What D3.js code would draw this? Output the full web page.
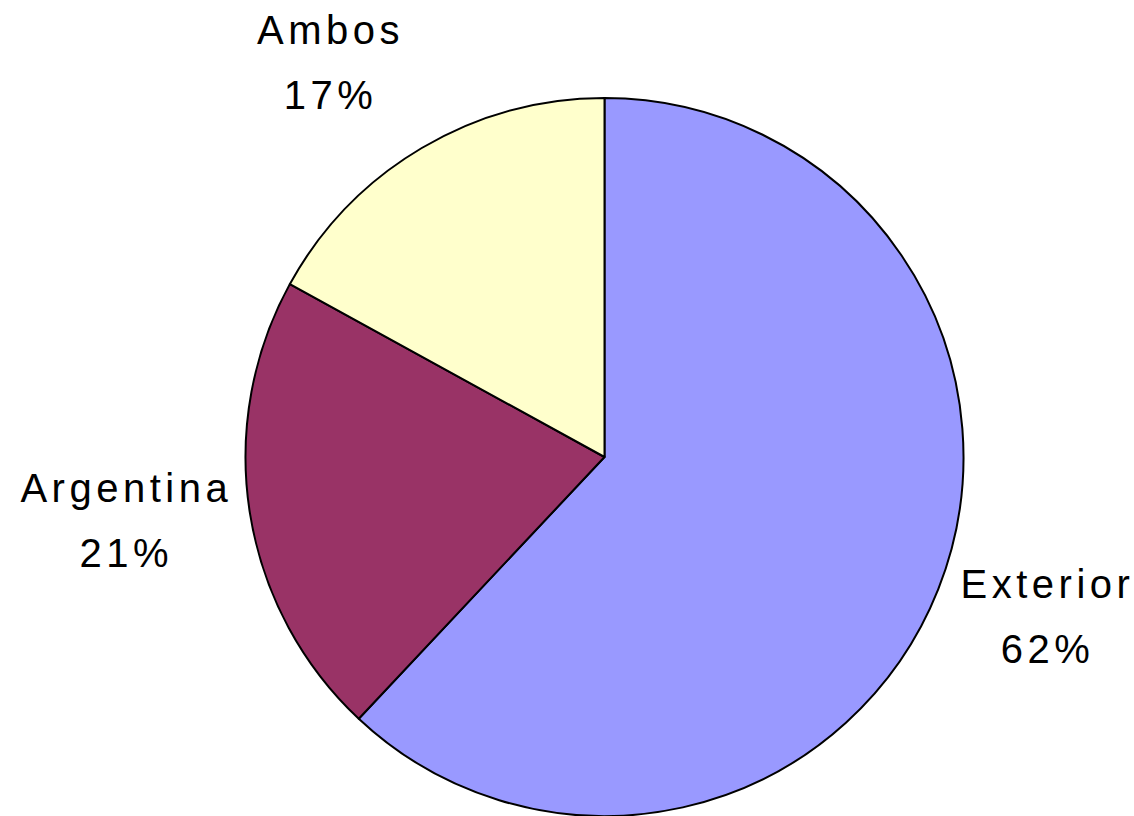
<!DOCTYPE html>
<html>
<head>
<meta charset="utf-8">
<script src="https://cdn.jsdelivr.net/npm/d3@7"></script>
<style>
  body { margin: 0; background: #fff; }
  text { font-family: Arial, "Liberation Sans", sans-serif; font-size: 40px; letter-spacing: 4.5px; fill: #000; }
</style>
</head>
<body>
<div id="chart"></div>
<script>
// data
var categories = ["Exterior", "Argentina", "Ambos"];
var values = [62, 21, 17];
var pctLabels = ["62%", "21%", "17%"];
var colors = ["#9999FF", "#993366", "#FFFFCC"];

//svg size
var svgWidth = 1134;
var svgHeight = 816;

//pie geometry
var cx = 604.5;
var cy = 457;
var radius = 359;

var svg = d3.select("#chart").append("svg")
    .attr("width", svgWidth)
    .attr("height", svgHeight);

var pieGroup = svg.append("g")
    .attr("transform", `translate(${cx}, ${cy})`);

var pie = d3.pie()
    .sort(null)
    .value(d => d.value);

var arc = d3.arc()
    .innerRadius(0)
    .outerRadius(radius);

var data = categories.map((c, i) => ({ name: c, value: values[i], pct: pctLabels[i], color: colors[i] }));
var arcs = pie(data);

pieGroup.selectAll("path")
    .data(arcs)
    .enter()
    .append("path")
    .attr("d", arc)
    .attr("fill", d => d.data.color)
    .attr("stroke", "#000")
    .attr("stroke-width", 2)
    .attr("stroke-linejoin", "round");

//labels: placed outside the slice, offset by the label box size
var lineGap = 65;
var capH = 28.6;

var labelGroup = pieGroup.selectAll(".lbl")
    .data(arcs)
    .enter()
    .append("g")
    .attr("class", "lbl");

labelGroup.append("text")
    .attr("text-anchor", "middle")
    .attr("dx", 2.25)
    .text(d => d.data.name);

labelGroup.append("text")
    .attr("text-anchor", "middle")
    .attr("dx", 2.25)
    .text(d => d.data.pct);

labelGroup.each(function (d) {
    var g = d3.select(this);
    var w = 0;
    g.selectAll("text").each(function () {
        w = Math.max(w, this.getComputedTextLength());
    });
    var hw = w / 2;
    var hh = (lineGap + capH) / 2;
    var a = (d.startAngle + d.endAngle) / 2;
    var px = radius * Math.sin(a);
    var py = -radius * Math.cos(a);
    var lx = px + Math.sign(Math.sin(a)) * (hw + 20);
    var ly = py - Math.cos(a) * (hh + 45) - 7;
    var texts = g.selectAll("text").nodes();
    d3.select(texts[0]).attr("x", lx).attr("y", ly - hh + capH);
    d3.select(texts[1]).attr("x", lx).attr("y", ly - hh + capH + lineGap);
});
</script>
</body>
</html>
